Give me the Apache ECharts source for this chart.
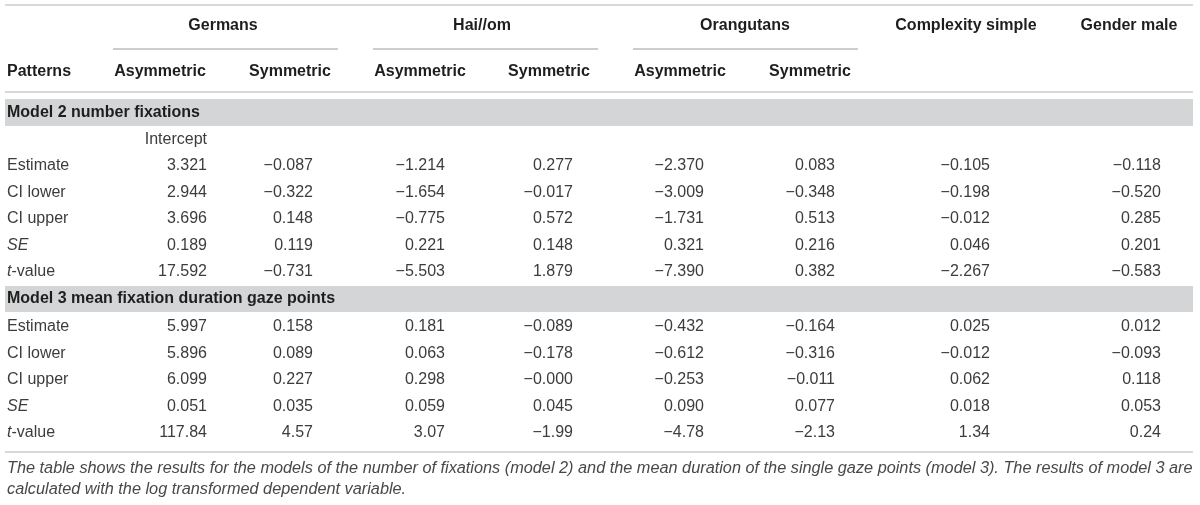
<!DOCTYPE html>
<html>
<head>
<meta charset="utf-8">
<script src="https://cdn.jsdelivr.net/npm/echarts@6/dist/echarts.min.js"></script>
<style>
  html, body { margin: 0; padding: 0; background: #fff; }
  #chart { width: 1200px; height: 505px; }
</style>
</head>
<body>
<div id="chart"></div>
<script>
// table content
const groupHeaders = ['Germans', 'Hai//om', 'Orangutans', 'Complexity simple', 'Gender male'];
const subHeaders = ['Asymmetric', 'Symmetric', 'Asymmetric', 'Symmetric', 'Asymmetric', 'Symmetric'];
const stubHeader = 'Patterns';
const rowLabels = ['Estimate', 'CI lower', 'CI upper', 'SE', 't-value'];
const model2Title = 'Model 2 number fixations';
const model3Title = 'Model 3 mean fixation duration gaze points';
const interceptNote = 'Intercept';

const model2Values = [
  [3.321, -0.087, -1.214, 0.277, -2.370, 0.083, -0.105, -0.118],
  [2.944, -0.322, -1.654, -0.017, -3.009, -0.348, -0.198, -0.520],
  [3.696, 0.148, -0.775, 0.572, -1.731, 0.513, -0.012, 0.285],
  [0.189, 0.119, 0.221, 0.148, 0.321, 0.216, 0.046, 0.201],
  [17.592, -0.731, -5.503, 1.879, -7.390, 0.382, -2.267, -0.583]
];
const model2Decimals = [3, 3, 3, 3, 3];

const model3Values = [
  [5.997, 0.158, 0.181, -0.089, -0.432, -0.164, 0.025, 0.012],
  [5.896, 0.089, 0.063, -0.178, -0.612, -0.316, -0.012, -0.093],
  [6.099, 0.227, 0.298, -0, -0.253, -0.011, 0.062, 0.118],
  [0.051, 0.035, 0.059, 0.045, 0.090, 0.077, 0.018, 0.053],
  [117.84, 4.57, 3.07, -1.99, -4.78, -2.13, 1.34, 0.24]
];
const model3Decimals = [3, 3, 3, 3, 2];

const captionLines = [
  'The table shows the results for the models of the number of fixations (model 2) and the mean duration of the single gaze points (model 3). The results of model 3 are',
  'calculated with the log transformed dependent variable.'
];

// layout (page units, mapped through the hidden value axes)
const W = 1200, H = 505;
const tableLeft = 5, tableRight = 1193, stubX = 7;
const groupCenters = [223, 482, 745, 966, 1129];
const groupSpans = [[113, 338], [373, 598], [633, 858]];
const subCenters = [160, 290, 420, 549, 680, 810];
const colRight = [207, 313, 445, 573, 704, 835, 990, 1161];
const yGroup = 26, ySpan = 49, ySub = 72;
const ruleYs = [5, 92, 452];
const bands = [[99, 126], [286, 312]];
const yModel2Rows = [166, 192.5, 219, 245.5, 272];
const yModel3Rows = [327, 353.5, 380, 406.5, 433];
const yIntercept = 140;
const captionYs = [468, 489];

const FONT = '"Liberation Sans", Arial, Helvetica, sans-serif';
const HEAD = '#1e1e1e', BODY = '#3c3c3c';

function fmt(v, d) {
  const neg = v < 0 || Object.is(v, -0);
  return (neg ? '\u2212' : '') + Math.abs(v).toFixed(d);
}

const cells = [];
function cell(x, y, text, opt) {
  cells.push(Object.assign({ x: x, y: y, text: text, align: 'left', bold: false, italic: false, color: BODY, size: 16 }, opt || {}));
}

groupHeaders.forEach((g, i) => cell(groupCenters[i], yGroup, g, { align: 'center', bold: true, color: HEAD }));
cell(stubX, ySub, stubHeader, { bold: true, color: HEAD });
subHeaders.forEach((s, i) => cell(subCenters[i], ySub, s, { align: 'center', bold: true, color: HEAD }));

cell(stubX, (bands[0][0] + bands[0][1]) / 2, model2Title, { bold: true, color: HEAD });
cell(colRight[0], yIntercept, interceptNote, { align: 'right' });
cell(stubX, (bands[1][0] + bands[1][1]) / 2, model3Title, { bold: true, color: HEAD });

function addModel(values, decimals, ys) {
  values.forEach((row, r) => {
    const lab = rowLabels[r];
    if (lab === 'SE') cell(stubX, ys[r], lab, { italic: true });
    else if (lab === 't-value') cell(stubX, ys[r], '{i|t}-value', { rich: true });
    else cell(stubX, ys[r], lab);
    row.forEach((v, c) => cell(colRight[c], ys[r], fmt(v, decimals[r]), { align: 'right' }));
  });
}
addModel(model2Values, model2Decimals, yModel2Rows);
addModel(model3Values, model3Decimals, yModel3Rows);

captionLines.forEach((t, i) => cell(stubX, captionYs[i], t, { italic: true, size: 16.3, color: '#484848' }));

const lines = [];
ruleYs.forEach(y => lines.push({ x0: tableLeft, x1: tableRight, y: y, color: '#d9d9d9', w: 2 }));
groupSpans.forEach(s => lines.push({ x0: s[0], x1: s[1], y: ySpan, color: '#9a9a9a', w: 1 }));

const chart = echarts.init(document.getElementById('chart'), null, { renderer: 'canvas' });

chart.setOption({
  animation: false,
  backgroundColor: '#ffffff',
  grid: { left: 0, right: 0, top: 0, bottom: 0 },
  xAxis: { type: 'value', min: 0, max: W, show: false },
  yAxis: { type: 'value', min: 0, max: H, inverse: true, show: false },
  series: [
    {
      type: 'custom',
      silent: true,
      data: bands.map(b => [tableLeft, b[0], tableRight, b[1]]),
      renderItem: function (params, api) {
        const p0 = api.coord([api.value(0), api.value(1)]);
        const p1 = api.coord([api.value(2), api.value(3)]);
        return {
          type: 'rect',
          shape: { x: p0[0], y: p0[1], width: p1[0] - p0[0], height: p1[1] - p0[1] },
          style: { fill: '#d4d5d7' }
        };
      }
    },
    {
      type: 'custom',
      silent: true,
      data: lines.map(l => [l.x0, l.y, l.x1]),
      renderItem: function (params, api) {
        const l = lines[params.dataIndex];
        const p0 = api.coord([api.value(0), api.value(1)]);
        const p1 = api.coord([api.value(2), api.value(1)]);
        return {
          type: 'line',
          shape: { x1: p0[0], y1: p0[1], x2: p1[0], y2: p1[1] },
          style: { stroke: l.color, lineWidth: l.w }
        };
      }
    },
    {
      type: 'custom',
      silent: true,
      data: cells.map(c => [c.x, c.y]),
      renderItem: function (params, api) {
        const c = cells[params.dataIndex];
        const p = api.coord([api.value(0), api.value(1)]);
        const style = {
          text: c.text,
          x: 0, y: 0,
          align: c.align,
          verticalAlign: 'middle',
          fontFamily: FONT,
          fontSize: c.size,
          fontWeight: c.bold ? 'bold' : 'normal',
          fontStyle: c.italic ? 'italic' : 'normal',
          fill: c.color
        };
        if (c.rich) {
          style.rich = { i: { fontStyle: 'italic', fontFamily: FONT, fontSize: c.size, fill: c.color } };
        }
        return { type: 'text', x: p[0], y: p[1], style: style };
      }
    }
  ]
});
</script>
</body>
</html>
